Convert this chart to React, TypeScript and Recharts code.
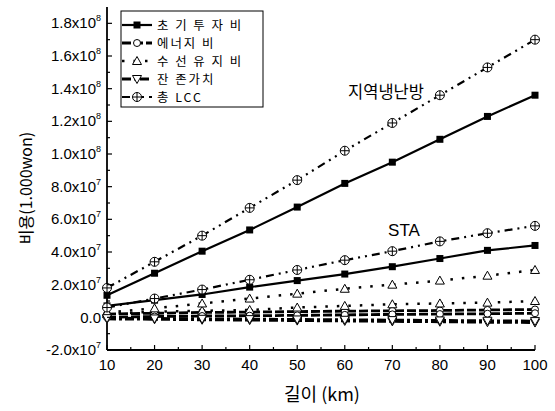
import React from "react";
import { LineChart, Line, XAxis, YAxis, Customized } from "recharts";

const lengthsKm = [10, 20, 30, 40, 50, 60, 70, 80, 90, 100];

// 지역냉난방 (district heating & cooling)
const dhcInit = [1.35e7, 2.7e7, 4.05e7, 5.35e7, 6.75e7, 8.2e7, 9.5e7, 1.09e8, 1.23e8, 1.36e8];
const dhcEnergy = [0.2e7, 0.25e7, 0.3e7, 0.32e7, 0.35e7, 0.38e7, 0.4e7, 0.42e7, 0.45e7, 0.48e7];
const dhcMaint = [0.2e7, 0.35e7, 0.4e7, 0.45e7, 0.6e7, 0.7e7, 0.8e7, 0.85e7, 0.9e7, 1.0e7];
const dhcResid = [-0.1e7, -0.12e7, -0.15e7, -0.17e7, -0.2e7, -0.22e7, -0.25e7, -0.27e7, -0.3e7, -0.32e7];
const dhcLcc = [1.8e7, 3.4e7, 5.0e7, 6.7e7, 8.4e7, 1.02e8, 1.19e8, 1.36e8, 1.53e8, 1.7e8];

// STA
const staInit = [0.7e7, 1.05e7, 1.4e7, 1.85e7, 2.25e7, 2.65e7, 3.1e7, 3.6e7, 4.1e7, 4.4e7];
const staEnergy = [0.0e7, 0.05e7, 0.08e7, 0.1e7, 0.12e7, 0.15e7, 0.18e7, 0.2e7, 0.22e7, 0.25e7];
const staMaint = [0.3e7, 0.55e7, 0.85e7, 1.15e7, 1.45e7, 1.75e7, 2.0e7, 2.25e7, 2.55e7, 2.9e7];
const staResid = [-0.05e7, -0.07e7, -0.09e7, -0.11e7, -0.13e7, -0.15e7, -0.17e7, -0.19e7, -0.21e7, -0.23e7];
const staLcc = [0.6e7, 1.15e7, 1.7e7, 2.3e7, 2.9e7, 3.5e7, 4.05e7, 4.65e7, 5.15e7, 5.6e7];

const legendNames = ["초 기 투 자 비", "에너지 비", "수 선 유 지 비", "잔 존가치", "총  LCC"];
const xTicks = [10, 15, 20, 25, 30, 35, 40, 45, 50, 55, 60, 65, 70, 75, 80, 85, 90, 95, 100];
const yTicks = [-2e7, -1e7, 0, 1e7, 2e7, 3e7, 4e7, 5e7, 6e7, 7e7, 8e7, 9e7, 1e8, 1.1e8, 1.2e8, 1.3e8, 1.4e8, 1.5e8, 1.6e8, 1.7e8, 1.8e8];

const data = lengthsKm.map((x, i) => ({
  x,
  dhcInit: dhcInit[i],
  dhcEnergy: dhcEnergy[i],
  dhcMaint: dhcMaint[i],
  dhcResid: dhcResid[i],
  dhcLcc: dhcLcc[i],
  staInit: staInit[i],
  staEnergy: staEnergy[i],
  staMaint: staMaint[i],
  staResid: staResid[i],
  staLcc: staLcc[i],
}));

const LATIN = "'Liberation Sans', Arial, sans-serif";
const KR = "'Noto Sans CJK KR', 'Noto Sans', sans-serif";

type Kind = "square" | "circle" | "up" | "down" | "cross";

const Marker = ({ kind, cx, cy }: { kind: Kind; cx: number; cy: number }) => {
  if (cx == null || cy == null) return null;
  switch (kind) {
    case "square":
      return <rect x={cx - 3.5} y={cy - 3.5} width={7} height={7} fill="#000" />;
    case "circle":
      return <circle cx={cx} cy={cy} r={3.5} fill="#fff" stroke="#000" strokeWidth={1} />;
    case "up":
      return (
        <polygon
          points={`${cx},${cy - 4.5} ${cx - 4.5},${cy + 3.5} ${cx + 4.5},${cy + 3.5}`}
          fill="#fff"
          stroke="#000"
          strokeWidth={1}
        />
      );
    case "down":
      return (
        <polygon
          points={`${cx},${cy + 4.5} ${cx - 4.5},${cy - 3.5} ${cx + 4.5},${cy - 3.5}`}
          fill="#fff"
          stroke="#000"
          strokeWidth={1}
        />
      );
    case "cross":
      return (
        <g>
          <circle cx={cx} cy={cy} r={4.5} fill="#fff" stroke="#000" strokeWidth={1} />
          <line x1={cx - 4.5} y1={cy} x2={cx + 4.5} y2={cy} stroke="#000" strokeWidth={1} />
          <line x1={cx} y1={cy - 4.5} x2={cx} y2={cy + 4.5} stroke="#000" strokeWidth={1} />
        </g>
      );
  }
  return null;
};

const styles: { kind: Kind; dash?: string; width: number }[] = [
  { kind: "square", dash: undefined, width: 2.2 },
  { kind: "circle", dash: "9 3", width: 2.8 },
  { kind: "up", dash: "2.5 9", width: 2.5 },
  { kind: "down", dash: "9 3 3 3", width: 2.8 },
  { kind: "cross", dash: "8 5 2 5 2 5", width: 2.2 },
];

const makeDot = (kind: Kind) => (props: any) => (
  <Marker key={`d-${kind}-${props.index}-${props.dataKey}`} kind={kind} cx={props.cx} cy={props.cy} />
);

const series: { key: string; style: number }[] = [
  { key: "dhcInit", style: 0 },
  { key: "dhcEnergy", style: 1 },
  { key: "dhcMaint", style: 2 },
  { key: "dhcResid", style: 3 },
  { key: "dhcLcc", style: 4 },
  { key: "staInit", style: 0 },
  { key: "staEnergy", style: 1 },
  { key: "staMaint", style: 2 },
  { key: "staResid", style: 3 },
  { key: "staLcc", style: 4 },
];

const YTick = (props: any) => {
  const { x, y, payload } = props;
  const v = payload.value as number;
  const k = Math.round(v / 1e7);
  const major = k % 2 === 0;
  let label: React.ReactNode = null;
  if (major) {
    if (v === 0) {
      label = (
        <text x={x - 6} y={y} textAnchor="end" dominantBaseline="central" fontFamily={LATIN} fontSize={15} fill="#000">
          0.0
        </text>
      );
    } else {
      const e = Math.floor(Math.log10(Math.abs(v)));
      const m = (v / Math.pow(10, e)).toFixed(1);
      label = (
        <text x={x - 6} y={y + 5} textAnchor="end" fontFamily={LATIN} fontSize={15} fill="#000">
          <tspan>{`${m}x10`}</tspan>
          <tspan dy={-7} fontSize={9}>{`${e}`}</tspan>
        </text>
      );
    }
  }
  return (
    <g>
      <line x1={x} y1={y} x2={x + (major ? 5 : 3)} y2={y} stroke="#000" strokeWidth={1.2} />
      {label}
    </g>
  );
};

const XTick = (props: any) => {
  const { x, y, payload } = props;
  const v = payload.value as number;
  const major = v % 10 === 0;
  return (
    <g>
      <line x1={x} y1={y} x2={x} y2={y - (major ? 5 : 3)} stroke="#000" strokeWidth={1.2} />
      {major && (
        <text x={x} y={y + 14} textAnchor="middle" dominantBaseline="central" fontFamily={LATIN} fontSize={15} fill="#000">
          {v}
        </text>
      )}
    </g>
  );
};

const Overlay = () => (
  <g>
    <rect x={121} y={11} width={142} height={96} fill="#fff" stroke="#000" strokeWidth={1} />
    {legendNames.map((name, i) => {
      const cy = 25 + 18 * i;
      const st = styles[i];
      return (
        <g key={name}>
          <line x1={122} y1={cy} x2={152} y2={cy} stroke="#000" strokeWidth={st.width} strokeDasharray={st.dash} />
          <Marker kind={st.kind} cx={137} cy={cy} />
          <text
            x={157}
            y={cy}
            dominantBaseline="central"
            fontFamily={KR}
            fontSize={12.4}
            letterSpacing={2}
            fill="#000"
          >
            {name}
          </text>
        </g>
      );
    })}
    <text x={386} y={91} textAnchor="middle" dominantBaseline="central" fontFamily={KR} fontSize={16.5} fill="#000">
      지역냉난방
    </text>
    <text x={404} y={230} textAnchor="middle" dominantBaseline="central" fontFamily={LATIN} fontSize={17} fill="#000">
      STA
    </text>
    <text x={322} y={393} textAnchor="middle" dominantBaseline="central" fontFamily={KR} fontSize={18} fill="#000">
      길이 (km)
    </text>
    <text
      x={25}
      y={188}
      textAnchor="middle"
      dominantBaseline="central"
      fontFamily={KR}
      fontSize={16}
      fill="#000"
      transform="rotate(-90 25 188)"
    >
      비용(1.000won)
    </text>
  </g>
);

export default function App() {
  return (
    <div style={{ position: "absolute", left: 0, top: 0, width: 555, height: 411, background: "#fff" }}>
      <LineChart width={555} height={411} data={data} margin={{ top: 7, right: 20, left: 0, bottom: 0 }}>
        <XAxis
          dataKey="x"
          type="number"
          domain={[10, 100]}
          ticks={xTicks}
          interval={0}
          height={61}
          tickSize={0}
          tickMargin={0}
          tickLine={false}
          tick={<XTick />}
          axisLine={{ stroke: "#000", strokeWidth: 1.8 }}
        />
        <XAxis
          xAxisId="top"
          dataKey="x"
          type="number"
          orientation="top"
          domain={[10, 100]}
          height={0}
          tick={false}
          tickLine={false}
          axisLine={{ stroke: "#000", strokeWidth: 1.3 }}
        />
        <YAxis
          type="number"
          domain={[-2e7, 1.9e8]}
          ticks={yTicks}
          interval={0}
          width={107}
          tickSize={0}
          tickMargin={0}
          tickLine={false}
          tick={<YTick />}
          allowDataOverflow
          axisLine={{ stroke: "#000", strokeWidth: 1.8 }}
        />
        <YAxis
          yAxisId="right"
          orientation="right"
          type="number"
          domain={[-2e7, 1.9e8]}
          width={0}
          tick={false}
          tickLine={false}
          allowDataOverflow
          axisLine={{ stroke: "#000", strokeWidth: 1.5 }}
        />
        {series.map((s) => {
          const st = styles[s.style];
          return (
            <Line
              key={s.key}
              dataKey={s.key}
              type="linear"
              stroke="#000"
              strokeWidth={st.width}
              strokeDasharray={st.dash}
              dot={makeDot(st.kind)}
              activeDot={false}
              isAnimationActive={false}
            />
          );
        })}
        <Customized component={Overlay} />
      </LineChart>
    </div>
  );
}
